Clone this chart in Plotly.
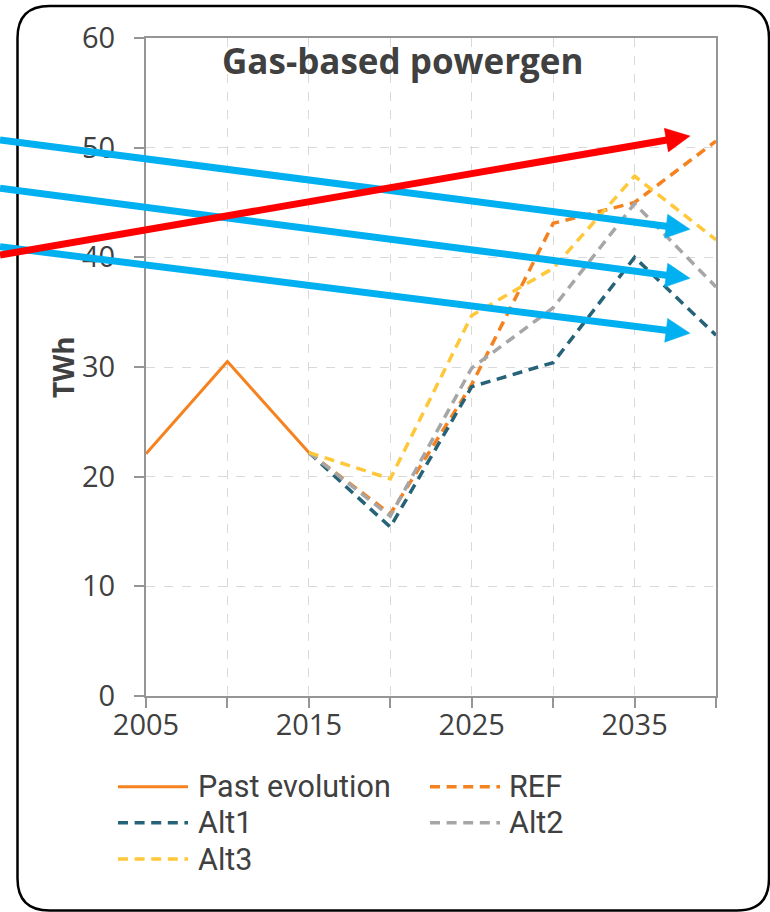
import plotly.graph_objects as go

# ---- data (TWh) ----
years_past = [2005, 2010, 2015]
past_evolution = [22.1, 30.5, 22.2]

years_proj = [2015, 2020, 2025, 2030, 2035, 2040]
ref = [22.2, 16.6, 28.4, 43.1, 45.0, 50.6]
alt1 = [22.2, 15.4, 28.2, 30.4, 40.0, 32.9]
alt2 = [22.2, 16.4, 29.9, 35.4, 44.9, 37.3]
alt3 = [22.2, 19.8, 34.7, 39.0, 47.4, 41.6]

x_ticks = [2005, 2010, 2015, 2020, 2025, 2030, 2035, 2040]
x_ticktext = ["2005", "", "2015", "", "2025", "", "2035", ""]
y_ticks = [0, 10, 20, 30, 40, 50, 60]

series_names = ["Past evolution", "REF", "Alt1", "Alt2", "Alt3"]
series_colors = ["#F5821F", "#F5821F", "#266278", "#A6A6A6", "#FFC83A"]

TEXT = "#404040"
AXIS = "#959595"
FONT = "Open Sans"
LEGEND_FONT = "Roboto"
DASH = "10px,6.6px"

W, H = 770, 912
L, R, T, B = 146, 716, 38, 696  # plot area edges in pixels


def px(x):
    return (x - L) / (R - L)


def py(y):
    return (B - y) / (B - T)


fig = go.Figure()

fig.add_trace(go.Scatter(x=years_past, y=past_evolution, mode="lines",
                         name=series_names[0],
                         line=dict(color=series_colors[0], width=3)))
for name, vals, col in zip(series_names[1:], [ref, alt1, alt2, alt3], series_colors[1:]):
    fig.add_trace(go.Scatter(x=years_proj, y=vals, mode="lines", name=name,
                             line=dict(color=col, width=3.5, dash=DASH)))

shapes = []

# rounded outer frame
fx0, fx1, fy0, fy1, rad = 17.5, 769, 6, 910.5, 32
frame = (f"M{px(fx0 + rad)},{py(fy0)} L{px(fx1 - rad)},{py(fy0)} "
         f"Q{px(fx1)},{py(fy0)} {px(fx1)},{py(fy0 + rad)} "
         f"L{px(fx1)},{py(fy1 - rad)} Q{px(fx1)},{py(fy1)} {px(fx1 - rad)},{py(fy1)} "
         f"L{px(fx0 + rad)},{py(fy1)} Q{px(fx0)},{py(fy1)} {px(fx0)},{py(fy1 - rad)} "
         f"L{px(fx0)},{py(fy0 + rad)} Q{px(fx0)},{py(fy0)} {px(fx0 + rad)},{py(fy0)} Z")
shapes.append(dict(type="path", xref="paper", yref="paper", path=frame,
                   line=dict(color="#000000", width=2.5), layer="above"))


def arrow(x0, y0, x1, y1, color, width=7, head_len=24, head_half=12):
    dx, dy = x1 - x0, y1 - y0
    n = (dx * dx + dy * dy) ** 0.5
    ux, uy = dx / n, dy / n
    bx, by = x1 - ux * head_len, y1 - uy * head_len
    nx, ny = -uy, ux
    out = [dict(type="line", xref="paper", yref="paper",
                x0=px(x0), y0=py(y0), x1=px(bx + ux * 2), y1=py(by + uy * 2),
                line=dict(color=color, width=width), layer="above")]
    tri = (f"M{px(x1)},{py(y1)} L{px(bx + nx * head_half)},{py(by + ny * head_half)} "
           f"L{px(bx - nx * head_half)},{py(by - ny * head_half)} Z")
    out.append(dict(type="path", xref="paper", yref="paper", path=tri,
                    fillcolor=color, line=dict(color=color, width=0.5), layer="above"))
    return out


BLUE = "#00B0F0"
RED = "#FF0000"
shapes += arrow(0, 140, 690, 229.3, BLUE)
shapes += arrow(0, 188.3, 690, 278.3, BLUE)
shapes += arrow(0, 246.7, 690, 333.3, BLUE)
shapes += arrow(0, 255, 690, 136, RED)

# legend drawn as line samples + labels
legend_rows = [786.7, 822.7, 859]
legend_cols = [(118, 188, 196), (430, 500, 507)]
annotations = []
for i, (name, col) in enumerate(zip(series_names, series_colors)):
    r, c = divmod(i, 2)
    lx0, lx1, tx = legend_cols[c]
    yy = legend_rows[r]
    shapes.append(dict(type="line", xref="paper", yref="paper",
                       x0=px(lx0), x1=px(lx1), y0=py(yy), y1=py(yy),
                       line=dict(color=col, width=3.5 if i else 3,
                                 dash="solid" if i == 0 else DASH)))
    annotations.append(dict(text=name, xref="paper", yref="paper",
                            x=px(tx), y=py(yy), xanchor="left", yanchor="middle",
                            showarrow=False,
                            font=dict(family=LEGEND_FONT, size=30.5, color=TEXT)))

annotations.append(dict(text="<b>Gas-based powergen</b>", xref="paper", yref="paper",
                        x=px(403), y=py(60), xanchor="center", yanchor="middle",
                        showarrow=False, font=dict(family=FONT, size=35, color=TEXT)))
annotations.append(dict(text="<b>TWh</b>", xref="paper", yref="paper",
                        x=px(63), y=py(367), xanchor="center", yanchor="middle",
                        textangle=-90, showarrow=False,
                        font=dict(family=FONT, size=28, color=TEXT)))

axis_style = dict(showgrid=True, gridcolor="#D9D9D9", griddash="dash", gridwidth=1,
                  showline=True, linecolor=AXIS, linewidth=2, mirror=True,
                  ticks="outside", ticklen=10, tickcolor=AXIS, tickwidth=2,
                  zeroline=False, tickfont=dict(family=FONT, size=29, color=TEXT))

fig.update_layout(
    width=W, height=H,
    margin=dict(l=L, r=W - R, t=T, b=H - B),
    paper_bgcolor="white", plot_bgcolor="white",
    showlegend=False,
    shapes=shapes, annotations=annotations,
    xaxis=dict(range=[2005, 2040], tickvals=x_ticks, ticktext=x_ticktext,
               ticklabelstandoff=-8, **axis_style),
    yaxis=dict(range=[0, 60], tickvals=y_ticks, ticklabelstandoff=13, **axis_style),
)

fig.write_html("out.html")
